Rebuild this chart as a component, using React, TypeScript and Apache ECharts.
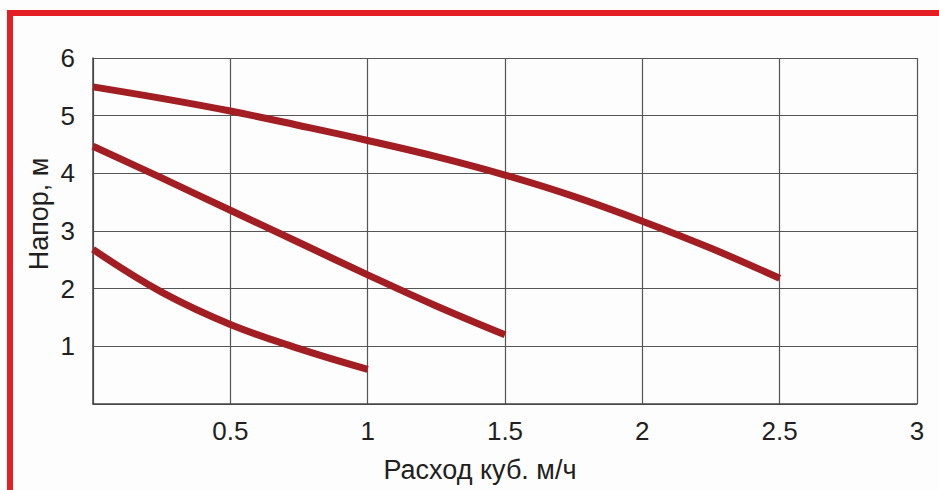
import React, { useEffect, useRef } from "react";
import * as echarts from "echarts";

const xTicks = [0, 0.5, 1, 1.5, 2, 2.5, 3];
const curveHigh: [number, number][] = [
  [0, 5.5], [0.25, 5.3], [0.5, 5.08], [0.75, 4.83], [1, 4.57], [1.25, 4.29],
  [1.5, 3.97], [1.75, 3.6], [2, 3.17], [2.25, 2.7], [2.5, 2.18],
];
const curveMid: [number, number][] = [
  [0, 4.47], [0.25, 3.92], [0.5, 3.36], [0.75, 2.8], [1, 2.24], [1.25, 1.7], [1.5, 1.2],
];
const curveLow: [number, number][] = [
  [0, 2.68], [0.25, 1.94], [0.5, 1.38], [0.75, 0.96], [1, 0.6],
];
const xName = "Расход куб. м/ч";
const yName = "Напор, м";

const FONT = "'Liberation Sans', Arial, sans-serif";
const LINE = "#a31e22";

export default function App() {
  const ref = useRef<HTMLDivElement>(null);
  useEffect(() => {
    const chart = echarts.init(ref.current!, null, { renderer: "svg" });
    const mk = (data: [number, number][]) => ({
      type: "line",
      data,
      smooth: 0.4,
      symbol: "none",
      lineStyle: { color: LINE, width: 7, cap: "butt" },
    });
    chart.setOption({
      animation: false,
      backgroundColor: "#fdfdfd",
      grid: { left: 93, top: 58, right: 22, bottom: 86 },
      xAxis: {
        type: "value",
        min: xTicks[0],
        max: xTicks[xTicks.length - 1],
        interval: 0.5,
        axisLine: { show: true, lineStyle: { color: "#444", width: 1.5 } },
        axisTick: { show: false },
        splitLine: { show: true, lineStyle: { color: "#555", width: 1.2 } },
        axisLabel: {
          color: "#231f20",
          fontSize: 26,
          fontFamily: FONT,
          margin: 14,
          formatter: (v: number) => (v === 0 ? "" : String(v)),
        },
      },
      yAxis: {
        type: "value",
        min: 0,
        max: 6,
        interval: 1,
        axisLine: { show: true, lineStyle: { color: "#444", width: 1.5 } },
        axisTick: { show: false },
        splitLine: { show: true, lineStyle: { color: "#555", width: 1.2 } },
        axisLabel: {
          color: "#231f20",
          fontSize: 26,
          fontFamily: FONT,
          margin: 18,
          formatter: (v: number) => (v === 0 ? "" : String(v)),
        },
      },
      graphic: [
        { type: "rect", shape: { x: 7, y: 10, width: 932, height: 6 }, style: { fill: "#e31e24" } },
        { type: "rect", shape: { x: 7, y: 10, width: 6, height: 480 }, style: { fill: "#e31e24" } },
        {
          type: "text",
          x: 480,
          y: 470,
          style: {
            text: xName,
            fill: "#231f20",
            fontSize: 27,
            fontFamily: FONT,
            align: "center",
            verticalAlign: "middle",
          },
        },
        {
          type: "text",
          x: 39,
          y: 214,
          rotation: Math.PI / 2,
          style: {
            text: yName,
            fill: "#231f20",
            fontSize: 27,
            fontFamily: FONT,
            align: "center",
            verticalAlign: "middle",
          },
        },
      ],
      series: [mk(curveHigh), mk(curveMid), mk(curveLow)],
    });
    return () => chart.dispose();
  }, []);
  return (
    <div
      ref={ref}
      style={{ position: "absolute", left: 0, top: 0, width: 939, height: 490 }}
    />
  );
}
